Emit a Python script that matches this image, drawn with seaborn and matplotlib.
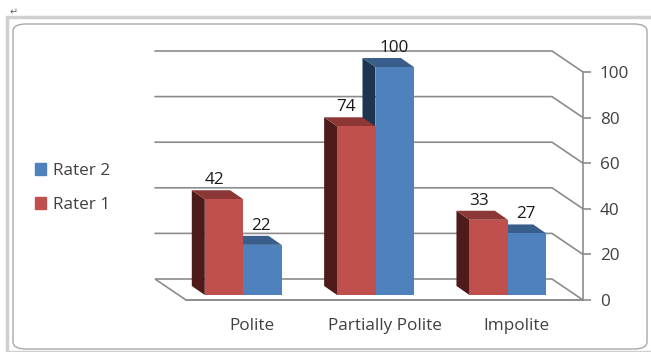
import pandas as pd
import matplotlib
matplotlib.use("Agg")
import matplotlib.pyplot as plt
import seaborn as sns
from matplotlib.patches import Polygon, Patch, FancyBboxPatch, Rectangle
from matplotlib.lines import Line2D
from matplotlib.transforms import ScaledTranslation

# Data
categories = ["Polite", "Partially Polite", "Impolite"]
rater1 = [42, 74, 33]
rater2 = [22, 100, 27]
series = ["Rater 1", "Rater 2"]
y_ticks = [0, 20, 40, 60, 80, 100]

# Colours (front / left side / top of each 3D bar)
front = {"Rater 1": "#C0504D", "Rater 2": "#4F81BD"}
side = {"Rater 1": "#4F1B1A", "Rater 2": "#1E3450"}
top = {"Rater 1": "#8C3735", "Rater 2": "#395E8C"}
grey = "#8C8C8C"

df = pd.DataFrame({
    "category": categories * 2,
    "rater": ["Rater 1"] * 3 + ["Rater 2"] * 3,
    "value": rater1 + rater2,
})

sns.set_style("white")
plt.rcParams["font.family"] = ["Open Sans", "DejaVu Sans"]
fs = 12.3

W, H = 651, 352
fig = plt.figure(figsize=(W / 100, H / 100), dpi=100)

# outer frame + rounded chart border
fig.patches.append(Rectangle((7 / W, 0), 1, 1 - 17 / H, transform=fig.transFigure,
                             fill=False, ec="#D0D0D0", lw=2.5))
fig.patches.append(FancyBboxPatch((13 / W, 3 / H), 634 / W, 1 - 27 / H,
                                  boxstyle="round,pad=0,rounding_size=0.02",
                                  transform=fig.transFigure, fill=False, ec="#A8A8A8", lw=1))
fig.text(10 / W, 1 - 15 / H, "\u21b5", fontsize=7, color="#666666", family="DejaVu Sans")

# axes = front plane of the 3D box
ax = fig.add_axes([186 / W, 52 / H, 397 / W, 228 / H])
sns.barplot(data=df, x="category", y="value", hue="rater", hue_order=series,
            palette=front, width=0.58, saturation=1, linewidth=0, legend=False,
            ax=ax, zorder=5)
ax.set_xlim(-0.5, 2.5)
ax.set_ylim(0, 100)

dxp = 3 / 397      # data units per pixel, x
dyp = 100 / 228    # data units per pixel, y

# back wall, floor and side gridlines
bx, by = -31 * dxp, 21 * dyp
floor = Polygon([(-0.5, 0), (2.5, 0), (2.5 + bx, by), (-0.5 + bx, by)], closed=True,
                fc="white", ec=grey, lw=1.2, zorder=1, clip_on=False)
ax.add_patch(floor)
for t in y_ticks[1:]:
    ax.add_line(Line2D([-0.5 + bx, 2.5 + bx, 2.5], [t + by, t + by, t],
                       color=grey, lw=1.2, zorder=1, clip_on=False))

# shift bars into the middle depth plane and add their side/top faces
bar_tr = ax.transData + ScaledTranslation(-0.09, 0.05, fig.dpi_scale_trans)
ddx, ddy = -13 * dxp, 9 * dyp
for j, name in enumerate(series):
    for p in ax.containers[j]:
        p.set_transform(bar_tr)
        p.set_clip_on(False)
        x, w, h = p.get_x(), p.get_width(), p.get_height()
        z = 3 if name == "Rater 1" else 2
        ax.add_patch(Polygon([(x, 0), (x, h), (x + ddx, h + ddy), (x + ddx, ddy)],
                             fc=side[name], ec="none", transform=bar_tr, zorder=z, clip_on=False))
        ax.add_patch(Polygon([(x, h), (x + w, h), (x + w + ddx, h + ddy), (x + ddx, h + ddy)],
                             fc=top[name], ec="none", transform=bar_tr, zorder=z, clip_on=False))
        off = -19 if name == "Rater 1" else -10
        ax.annotate(f"{int(h)}", xy=(x + w / 2, h), xytext=(off, 24),
                    textcoords="offset pixels", ha="center", va="center",
                    fontsize=fs, color="#1A1A1A", zorder=6, annotation_clip=False)

# axes styling
for s in ["top", "left"]:
    ax.spines[s].set_visible(False)
for s in ["right", "bottom"]:
    ax.spines[s].set_color(grey)
    ax.spines[s].set_linewidth(1.2)
ax.yaxis.tick_right()
ax.set_yticks(y_ticks)
ax.tick_params(axis="y", length=6, width=1.2, color=grey, pad=6,
               labelsize=fs, labelcolor="#404040")
ax.set_xticks([0, 1, 2])
ax.set_xticklabels(categories)
ax.set_xticks([-0.5, 0.5, 1.5, 2.5], minor=True)
ax.tick_params(axis="x", which="major", length=0, pad=13, labelsize=fs, labelcolor="#404040")
ax.tick_params(axis="x", which="minor", length=6, width=1.2, color=grey)
ax.set_xlabel("")
ax.set_ylabel("")
ax.patch.set_alpha(0)

# legend
handles = [Patch(color=front["Rater 2"]), Patch(color=front["Rater 1"])]
fig.legend(handles, ["Rater 2", "Rater 1"], loc="center left",
           bbox_to_anchor=(35 / W, 1 - 188 / H), frameon=False, fontsize=fs,
           handlelength=0.65, handleheight=0.65, handletextpad=0.4, labelspacing=1.05,
           borderpad=0, borderaxespad=0, labelcolor="#404040")

fig.savefig("out.png", dpi=100)
